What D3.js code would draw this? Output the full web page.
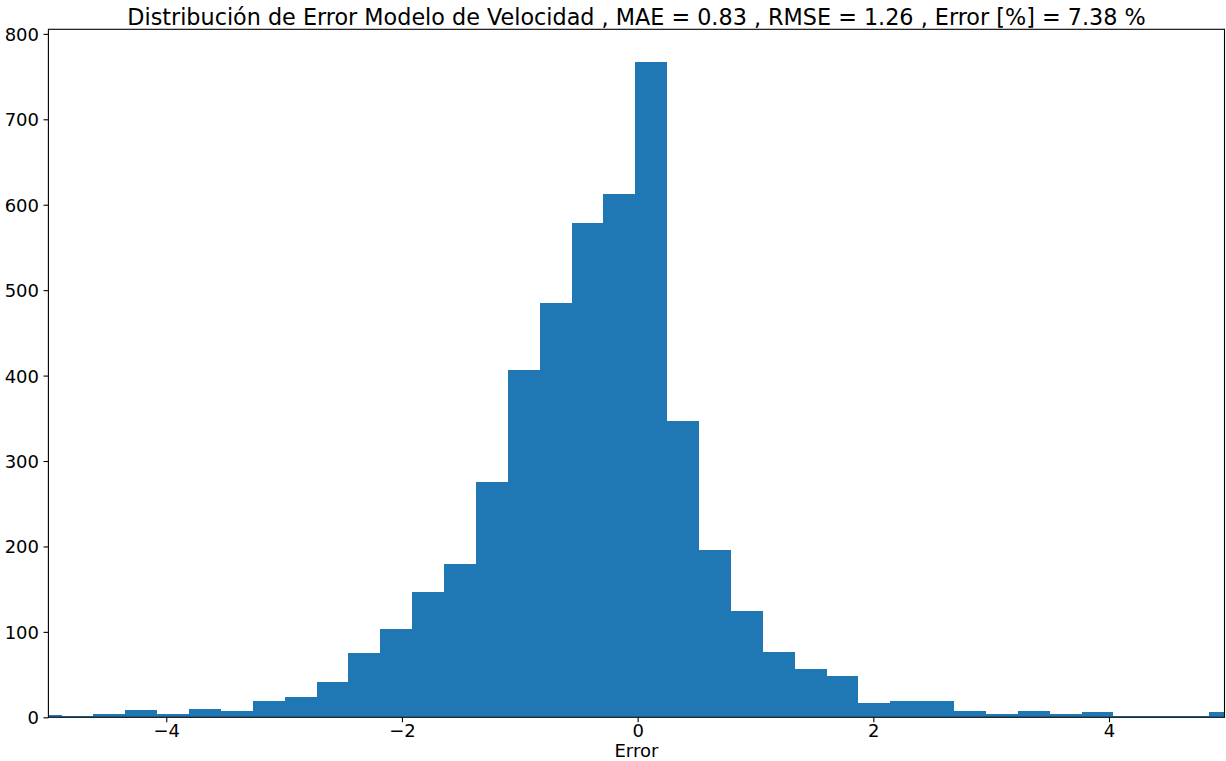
<!DOCTYPE html>
<html>
<head>
<meta charset="utf-8">
<script src="https://cdn.jsdelivr.net/npm/d3@7"></script>
<style>
  html, body { margin: 0; padding: 0; background: #fff; }
  svg { display: block; font-family: "DejaVu Sans", sans-serif; }
</style>
</head>
<body>
<svg id="chart" width="1226" height="761"></svg>
<script>
// ---- data ----
const titleText = "Distribución de Error Modelo de Velocidad , MAE = 0.83 , RMSE = 1.26 , Error [%] = 7.38 %";
const xLabel = "Error";
const binEdges = [-5.159, -4.888, -4.618, -4.347, -4.077, -3.806, -3.536, -3.265, -2.995, -2.724,
  -2.454, -2.183, -1.913, -1.642, -1.372, -1.101, -0.831, -0.560, -0.290, -0.019,
  0.251, 0.522, 0.792, 1.063, 1.333, 1.604, 1.874, 2.145, 2.415, 2.686,
  2.956, 3.227, 3.497, 3.768, 4.038, 4.309, 4.579, 4.850, 5.120];
const counts = [3, 2, 4, 9, 4, 10, 7, 19, 24, 41,
  75, 103, 147, 180, 275, 406, 485, 579, 612, 767,
  347, 196, 125, 77, 56, 48, 17, 19, 19, 7,
  4, 7, 4, 6, 2, 2, 1, 6];
const xTicks = [-4, -2, 0, 2, 4];
const xTickLabels = ["−4", "−2", "0", "2", "4"];
const yTicks = [0, 100, 200, 300, 400, 500, 600, 700, 800];
const yTickLabels = ["0", "100", "200", "300", "400", "500", "600", "700", "800"];
const xDomain = [-5, 4.98];
const yDomain = [0, 805.35];

// ---- layout ----
const L = 48.4, R = 1224.5, T = 29.3, B = 717.3;
const svg = d3.select("#chart");
const x = d3.scaleLinear().domain(xDomain).range([L, R]);
const y = d3.scaleLinear().domain(yDomain).range([B, T]);

const bins = counts.map((c, i) => ({ x0: binEdges[i], x1: binEdges[i + 1], c }));

svg.append("defs").append("clipPath").attr("id", "plotclip")
  .append("rect").attr("x", L).attr("y", T).attr("width", R - L).attr("height", B - T);

svg.append("g").attr("clip-path", "url(#plotclip)")
  .selectAll("rect").data(bins).join("rect")
  .attr("x", d => x(d.x0))
  .attr("width", d => x(d.x1) - x(d.x0))
  .attr("y", d => y(d.c))
  .attr("height", d => y(0) - y(d.c))
  .attr("fill", "#1f77b4")
  .attr("shape-rendering", "crispEdges");

// axes
const fs = 18;
const xAxis = d3.axisBottom(x).tickValues(xTicks)
  .tickFormat((d, i) => xTickLabels[i]).tickSize(4.9).tickPadding(4.5);
const gx = svg.append("g").attr("transform", `translate(0,${B})`).call(xAxis);
gx.select(".domain").remove();
gx.selectAll("line").attr("stroke", "#000").attr("stroke-width", 1.1);
gx.selectAll("text").attr("font-size", fs).attr("fill", "#000")
  .attr("font-family", "DejaVu Sans").attr("dy", null).attr("y", 20).attr("dominant-baseline", "auto");

const yAxis = d3.axisLeft(y).tickValues(yTicks)
  .tickFormat((d, i) => yTickLabels[i]).tickSize(4.9).tickPadding(4.5);
const gy = svg.append("g").attr("transform", `translate(${L},0)`).call(yAxis);
gy.select(".domain").remove();
gy.selectAll("line").attr("stroke", "#000").attr("stroke-width", 1.1);
gy.selectAll("text").attr("font-size", fs).attr("fill", "#000")
  .attr("font-family", "DejaVu Sans").attr("dy", "0.36em");

// frame
svg.append("rect").attr("x", L).attr("y", T).attr("width", R - L).attr("height", B - T)
  .attr("fill", "none").attr("stroke", "#000").attr("stroke-width", 1.1);

// title and label
svg.append("text").attr("x", (L + R) / 2).attr("y", 24.5).attr("text-anchor", "middle")
  .attr("font-size", 22.3).attr("fill", "#000").text(titleText);
svg.append("text").attr("x", (L + R) / 2).attr("y", 757).attr("text-anchor", "middle")
  .attr("font-size", fs).attr("fill", "#000").text(xLabel);
</script>
</body>
</html>
